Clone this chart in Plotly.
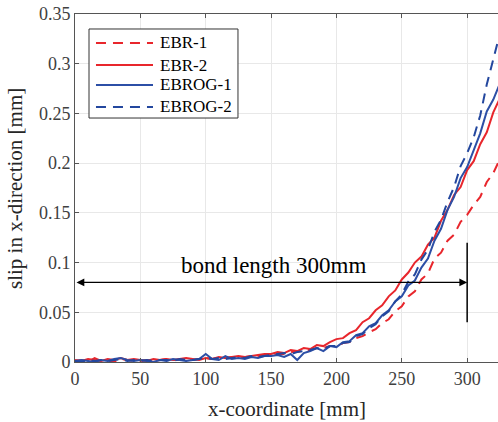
import plotly.graph_objects as go

x_mm = [0, 5, 10, 15, 20, 25, 30, 35, 40, 45, 50, 55, 60, 65, 70, 75, 80, 85, 90, 95,
        100, 105, 110, 115, 120, 125, 130, 135, 140, 145, 150, 155, 160, 165, 170, 175,
        180, 185, 190, 195, 200, 205, 210, 215, 220, 225, 230, 235, 240, 245, 250, 255,
        260, 265, 270, 275, 280, 285, 290, 295, 300, 305, 310, 315, 320, 325]

ebr_1 = [0.001, 0.002, 0.000, 0.004, 0.001, 0.002, 0.000, 0.003, 0.002, 0.001, 0.001, 0.002,
         0.001, 0.002, 0.003, 0.002, 0.002, 0.003, 0.002, 0.003, 0.004, 0.003, 0.004, 0.004,
         0.005, 0.004, 0.005, 0.006, 0.006, 0.007,
         0.007, 0.008, 0.008, 0.010, 0.010, 0.012, 0.012, 0.014, 0.014, 0.016, 0.016, 0.019,
         0.020, 0.024, 0.026, 0.030, 0.033, 0.039, 0.043, 0.051, 0.056, 0.066, 0.071, 0.083,
         0.089, 0.104, 0.110, 0.122, 0.128, 0.141, 0.148, 0.158, 0.166, 0.181, 0.190, 0.204]

ebr_2 = [0.002, 0.001, 0.003, 0.002, 0.001, 0.003, 0.002, 0.004, 0.002, 0.003, 0.002, 0.001,
         0.003, 0.002, 0.003, 0.002, 0.003, 0.004, 0.003, 0.002, 0.004, 0.003, 0.005, 0.004,
         0.005, 0.006, 0.005, 0.006, 0.007, 0.008,
         0.008, 0.010, 0.009, 0.012, 0.011, 0.014, 0.013, 0.017, 0.016, 0.020, 0.023, 0.024,
         0.029, 0.032, 0.040, 0.044, 0.052, 0.057, 0.066, 0.072, 0.083, 0.090, 0.100, 0.106,
         0.118, 0.125, 0.142, 0.153, 0.168, 0.176, 0.193, 0.202, 0.219, 0.231, 0.251, 0.265]

ebrog_1 = [0.001, 0.002, 0.001, 0.000, 0.002, 0.001, 0.003, 0.004, 0.002, 0.001, 0.002, 0.001,
           0.000, 0.002, 0.001, 0.003, 0.002, 0.001, 0.002, 0.003, 0.008, 0.003, 0.002, 0.006,
           0.003, 0.004, 0.003, 0.005, 0.004, 0.006,
           0.006, 0.007, 0.005, 0.008, 0.002, 0.009, 0.011, 0.014, 0.011, 0.016, 0.015, 0.020,
           0.021, 0.027, 0.029, 0.036, 0.039, 0.047, 0.052, 0.061, 0.066, 0.077, 0.082, 0.095,
           0.104, 0.122, 0.134, 0.153, 0.166, 0.185, 0.196, 0.214, 0.230, 0.252, 0.264, 0.280]

ebrog_2 = [0.001, 0.000, 0.002, 0.001, 0.002, 0.001, 0.002, 0.003, 0.001, 0.002, 0.001, 0.002,
           0.001, 0.002, 0.002, 0.001, 0.003, 0.002, 0.002, 0.003, 0.004, 0.003, 0.004, 0.003,
           0.004, 0.005, 0.004, 0.006, 0.005, 0.006,
           0.007, 0.008, 0.009, 0.008, 0.010, 0.011, 0.012, 0.014, 0.013, 0.016, 0.016, 0.019,
           0.020, 0.026, 0.028, 0.034, 0.038, 0.046, 0.051, 0.061, 0.068, 0.081, 0.088, 0.103,
           0.113, 0.131, 0.143, 0.161, 0.176, 0.197, 0.210, 0.226, 0.248, 0.279, 0.303, 0.330]

series_names = ["EBR-1", "EBR-2", "EBROG-1", "EBROG-2"]
x_ticks = [0, 50, 100, 150, 200, 250, 300]
y_ticks = [0, 0.05, 0.1, 0.15, 0.2, 0.25, 0.3, 0.35]
y_tick_text = ["0", "0.05", "0.1", "0.15", "0.2", "0.25", "0.3", "0.35"]

RED = "#e8262c"
BLUE = "#2c4fa6"
BLUE_D = "#23479e"
FONT = "Times New Roman, Liberation Serif, serif"

styles = [dict(color=RED, width=2, dash="10px,7px"),
          dict(color=RED, width=2),
          dict(color=BLUE, width=2),
          dict(color=BLUE_D, width=2, dash="10px,7px")]
series = [ebr_1, ebr_2, ebrog_1, ebrog_2]

fig = go.Figure()
for name, ys, st in zip(series_names, series, styles):
    fig.add_trace(go.Scatter(x=x_mm, y=ys, name=name, mode="lines", line=st,
                             showlegend=False))

# manual legend (MATLAB-like, longer line samples)
fig.add_shape(type="rect", xref="paper", yref="paper", x0=0.0331, x1=0.3853,
              y0=0.7011, y1=0.9569, fillcolor="white", line=dict(color="#333333", width=1),
              layer="above")
row_y = [0.9167, 0.8534, 0.7960, 0.7328]
for name, st, ry in zip(series_names, styles, row_y):
    fig.add_shape(type="line", xref="paper", yref="paper", x0=0.0496, x1=0.1844,
                  y0=ry, y1=ry, line=st, layer="above")
    fig.add_annotation(x=0.1962, y=ry, xref="paper", yref="paper", text=name,
                       xanchor="left", yanchor="middle", showarrow=False,
                       font=dict(family=FONT, size=17, color="black"))

# bond length arrow
fig.add_annotation(x=300, y=0.08, ax=0, ay=0.08, xref="x", yref="y", axref="x", ayref="y",
                   text="", showarrow=True, arrowhead=2, arrowside="end+start",
                   arrowsize=1.3, arrowwidth=1.2, arrowcolor="black")
fig.add_annotation(x=152, y=0.097, xref="x", yref="y", text="bond length 300mm",
                   showarrow=False, font=dict(family=FONT, size=23, color="black"))
fig.add_shape(type="line", x0=300, x1=300, y0=0.04, y1=0.12, xref="x", yref="y",
              line=dict(color="black", width=1.5))

# axis titles
fig.add_annotation(x=0.5, y=-0.175, xref="paper", yref="paper", text="x-coordinate [mm]",
                   showarrow=False, font=dict(family=FONT, size=21, color="#262626"))
fig.add_annotation(x=-0.175, y=0.5, xref="paper", yref="paper",
                   text="slip in x-direction [mm]", textangle=-90,
                   showarrow=False, font=dict(family=FONT, size=21, color="#262626"))

fig.update_layout(
    width=498, height=422,
    margin=dict(l=75, r=0, t=14, b=60),
    paper_bgcolor="white", plot_bgcolor="white",
    font=dict(family=FONT, size=18, color="#404040"),
    showlegend=False,
)
fig.update_xaxes(range=[0, 323.6], tickvals=x_ticks, showgrid=True, gridcolor="#e8e8e8",
                 gridwidth=1, zeroline=False, showline=True, linecolor="#555555",
                 linewidth=1, mirror="ticks", ticks="inside", ticklen=4,
                 tickcolor="#555555", tickfont=dict(family=FONT, size=18, color="#404040"))
fig.update_yaxes(range=[0, 0.35], tickvals=y_ticks, ticktext=y_tick_text, showgrid=True,
                 gridcolor="#e8e8e8", gridwidth=1, zeroline=False, showline=True,
                 linecolor="#555555", linewidth=1, ticks="inside", ticklen=4,
                 tickcolor="#555555", tickfont=dict(family=FONT, size=18, color="#404040"))

fig.write_html("out.html", config={"displayModeBar": False},
               post_script="document.body.style.margin='0';")
